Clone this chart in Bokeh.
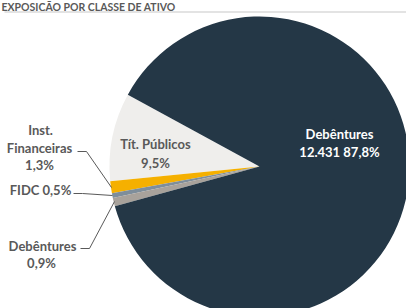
import math
from bokeh.plotting import figure
from bokeh.models import Range1d
from bokeh.core.properties import value
from bokeh.embed import file_html
from bokeh.resources import INLINE

# ---- data (counter-clockwise order from the top-left edge of "Tít. Públicos") ----
categories = ["Tít. Públicos", "Inst. Financeiras", "FIDC", "Debêntures", "Debêntures"]
shares = [9.5, 1.3, 0.5, 0.9, 87.8]
share_labels = ["9,5%", "1,3%", "0,5%", "0,9%", "87,8%"]
main_amount = "12.431"
title_text = "EXPOSIÇÃO POR CLASSE DE ATIVO"
colors = ["#EFEEEC", "#F5B000", "#7E8E9B", "#A8A29B", "#243746"]

W, H = 406, 308
p = figure(width=W, height=H, output_backend="svg", toolbar_location=None,
           x_range=Range1d(0, W), y_range=Range1d(0, H), min_border=0,
           background_fill_color="white", border_fill_color="white")
p.axis.visible = False
p.grid.visible = False
p.outline_line_color = None


def px(x):
    return x


def py(y):
    return H - y


FONT = value("Lato")
TXT = "#595959"

# title and separator line
p.text([px(1)], [py(0.5)], text=[title_text], text_font=FONT, text_font_size="10.5px",
       text_font_style="bold", text_color=TXT, text_baseline="top", text_align="left")
p.line([px(4), px(406)], [py(11.5), py(11.5)], line_color="#E3E3E3", line_width=2)

# pie
cx, cy, r = px(259), py(166), 150
start0 = math.radians(151.4)
total = sum(shares)
starts, ends = [], []
acc = start0
for s in shares:
    starts.append(acc)
    acc += s / total * 2 * math.pi
    ends.append(acc)
p.wedge(x=[cx] * len(shares), y=[cy] * len(shares), radius=r,
        start_angle=starts, end_angle=ends, fill_color=colors, line_color=None)

# inside labels
p.text([px(339), px(339)], [py(133), py(151)],
       text=[categories[4], main_amount + " " + share_labels[4]],
       text_font=FONT, text_font_size="13px", text_font_style="bold",
       text_color="white", text_align="center", text_baseline="middle")
p.text([px(155), px(155)], [py(143), py(162)],
       text=[categories[0], share_labels[0]],
       text_font=FONT, text_font_size="13px", text_font_style="bold",
       text_color=TXT, text_align="center", text_baseline="middle")

# outside labels
inst_words = categories[1].split(" ")
p.text([px(40), px(39), px(39)], [py(129), py(147), py(164)],
       text=[inst_words[0], inst_words[1], share_labels[1]],
       text_font=FONT, text_font_size="13px", text_font_style="bold",
       text_color=TXT, text_align="center", text_baseline="middle")
p.text([px(40)], [py(189)], text=[categories[2] + " " + share_labels[2]],
       text_font=FONT, text_font_size="13px", text_font_style="bold",
       text_color=TXT, text_align="center", text_baseline="middle")
p.text([px(42), px(41)], [py(245), py(262)], text=[categories[3], share_labels[3]],
       text_font=FONT, text_font_size="13px", text_font_style="bold",
       text_color=TXT, text_align="center", text_baseline="middle")

# leader lines
p.line([px(77), px(86), px(111)], [py(151), py(151), py(187)], line_color=TXT, line_width=1)
p.line([px(73), px(82), px(112)], [py(193), py(193), py(195)], line_color=TXT, line_width=1)
p.line([px(80), px(89), px(114)], [py(248), py(248), py(201)], line_color=TXT, line_width=1)

open("out.html", "w").write(file_html(p, INLINE))
